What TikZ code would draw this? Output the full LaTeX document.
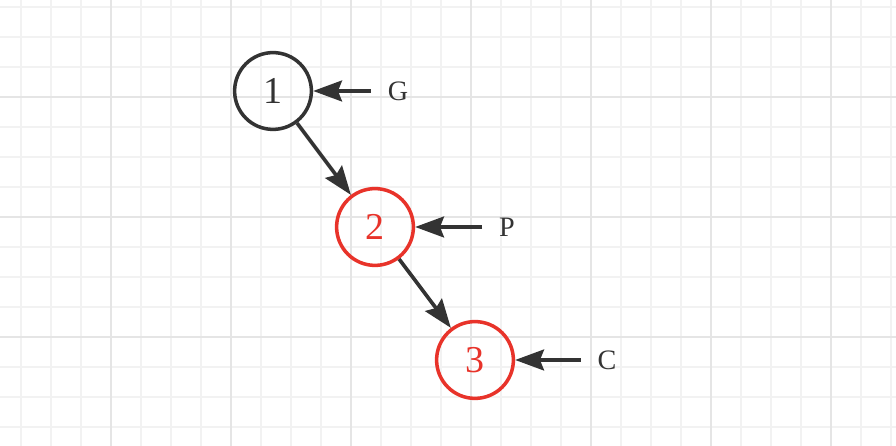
\documentclass[tikz,border=0pt]{standalone}
\usepackage{fontspec}
\setmainfont{Liberation Serif}
\usepackage{tikz}
\usetikzlibrary{arrows.meta}

\definecolor{inkdark}{HTML}{333333}
\definecolor{inkred}{HTML}{E8332A}
\definecolor{gridminor}{HTML}{F2F2F2}
\definecolor{gridmajor}{HTML}{E5E5E5}

\tikzset{
  vert/.style={circle,draw=inkdark,line width=2.5pt,minimum size=1.92cm,inner sep=0pt,
    text=inkdark,font=\fontsize{27}{32}\selectfont},
  redvert/.style={vert,draw=inkred,text=inkred},
  ptr/.style={draw=inkdark,line width=2.6pt,-{Stealth[length=0.72cm,width=0.52cm,inset=0.1cm]}},
  tag/.style={text=inkdark,font=\fontsize{20}{24}\selectfont},
}

\begin{document}
\begin{tikzpicture}[x=1cm,y=1cm]
  \useasboundingbox (0,0) rectangle (22.4,11.15);
  \fill[white] (0,0) rectangle (22.4,11.15);
  % Hintergrundraster: feine Linien, dann die kraeftigeren alle vier Felder
  \foreach \i in {0,...,29} \draw[gridminor,line width=1.3pt] ({0.525+0.75*\i},0) -- ++(0,11.15);
  \foreach \j in {0,...,14} \draw[gridminor,line width=1.3pt] (0,{10.975-0.75*\j}) -- ++(22.4,0);
  \foreach \i in {0,...,6} \draw[gridmajor,line width=1.3pt] ({2.775+3*\i},0) -- ++(0,11.15);
  \foreach \j in {0,...,2} \draw[gridmajor,line width=1.3pt] (0,{8.725-3*\j}) -- ++(22.4,0);

  \node[vert] (n1) at (6.825,8.875) {1};
  \node[redvert] (n2) at (9.375,5.475) {2};
  \node[redvert] (n3) at (11.875,2.15) {3};
  \draw[ptr] (n1) -- (n2);
  \draw[ptr] (n2) -- (n3);

  \node[tag] (g) at (9.95,8.875) {G};
  \node[tag] (p) at (12.675,5.475) {P};
  \node[tag] (c) at (15.175,2.15) {C};
  \draw[ptr,shorten <=0.3cm] (g) -- (n1);
  \draw[ptr,shorten <=0.3cm] (p) -- (n2);
  \draw[ptr,shorten <=0.3cm] (c) -- (n3);
\end{tikzpicture}
\end{document}
